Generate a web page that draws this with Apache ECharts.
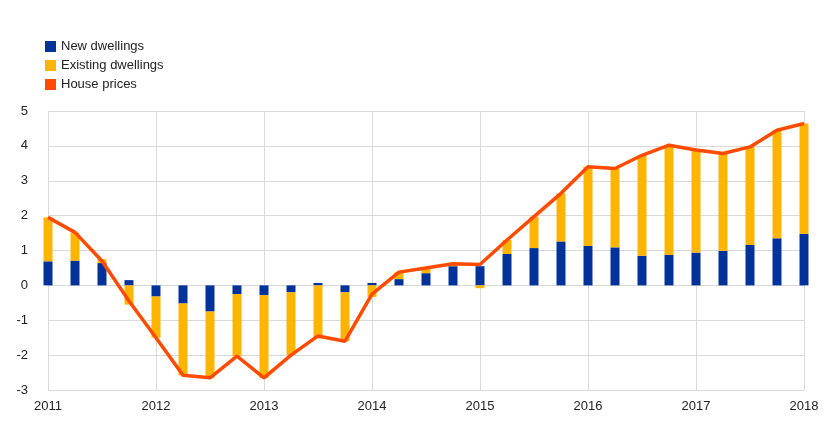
<!DOCTYPE html>
<html><head><meta charset="utf-8">
<script src="https://cdn.jsdelivr.net/npm/echarts@6/dist/echarts.min.js"></script>
<style>html,body{margin:0;background:#fff}#c{width:840px;height:430px}</style>
</head><body><div id="c"></div>
<script>
const quarters = [];
for (let y = 2011; y <= 2018; y++) for (let q = 1; q <= 4; q++) if (!(y === 2018 && q > 1)) quarters.push(y + 'Q' + q);
const newDwellings = [0.69,0.71,0.64,0.15,-0.32,-0.52,-0.75,-0.25,-0.28,-0.2,0.07,-0.2,0.07,0.18,0.35,0.55,0.55,0.9,1.07,1.26,1.13,1.09,0.85,0.88,0.94,0.99,1.16,1.35,1.48];
const existingDwellings = [1.26,0.8,0.11,-0.55,-1.18,-2.06,-1.9,-1.78,-2.37,-1.8,-1.52,-1.4,-0.33,0.2,0.15,0.07,-0.08,0.4,0.9,1.38,2.27,2.26,2.88,3.14,2.94,2.79,2.81,3.1,3.16];
const housePrices = [1.95,1.52,0.7,-0.45,-1.5,-2.58,-2.65,-2.03,-2.65,-2.0,-1.45,-1.6,-0.25,0.38,0.5,0.62,0.6,1.3,1.97,2.64,3.4,3.35,3.73,4.02,3.88,3.78,3.97,4.45,4.64];
const yTicks = [-3,-2,-1,0,1,2,3,4,5];
const chart = echarts.init(document.getElementById('c'));
const grey = '#d9d9d9';
chart.setOption({
  animation:false,
  textStyle:{fontFamily:'Arial, Liberation Sans, sans-serif'},
  legend:{orient:'vertical',left:40,top:35,itemWidth:11,itemHeight:11,itemGap:6,
    textStyle:{fontSize:13,color:'#222'},
    data:[{name:'New dwellings',icon:'rect'},{name:'Existing dwellings',icon:'rect'},{name:'House prices',icon:'rect'}]},
  grid:{left:48,right:36,top:111,bottom:40},
  xAxis:{type:'category',data:quarters,boundaryGap:false,
    axisLine:{show:false},axisTick:{show:false},
    axisLabel:{interval:3,formatter:v=>v.slice(0,4),fontSize:13,color:'#222',margin:10},
    splitLine:{show:true,interval:3,lineStyle:{color:grey}}},
  yAxis:{type:'value',min:yTicks[0],max:yTicks[yTicks.length-1],interval:1,
    axisLine:{show:false},axisTick:{show:false},
    axisLabel:{fontSize:13,color:'#222',margin:20},
    splitLine:{lineStyle:{color:grey}}},
  series:[
    {name:'New dwellings',type:'bar',stack:'a',data:newDwellings,barWidth:9,itemStyle:{color:'#003299'}},
    {name:'Existing dwellings',type:'bar',stack:'a',data:existingDwellings,barWidth:9,itemStyle:{color:'#ffb400'}},
    {name:'House prices',type:'line',data:housePrices,symbol:'none',lineStyle:{width:3.5,color:'#ff4b00'},itemStyle:{color:'#ff4b00'},z:5}
  ]
});
</script></body></html>
